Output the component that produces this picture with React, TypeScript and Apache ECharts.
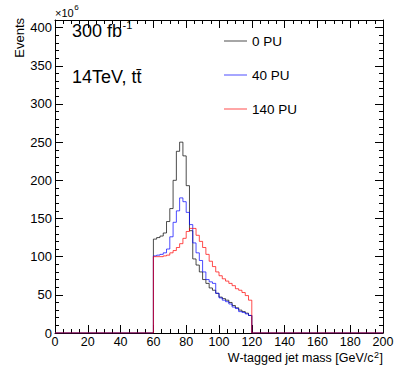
import React, { useEffect, useRef } from 'react';
import * as echarts from 'echarts';

// Lower edges of the 2 GeV mass bins (GeV/c^2)
const massEdges = [60, 62, 64, 66, 68, 70, 72, 74, 76, 78, 80, 82, 84, 86, 88, 90, 92, 94, 96, 98, 100, 102, 104, 106, 108, 110, 112, 114, 116, 118];
const upperEdge = 120;

// Events per bin (x10^6)
const pu0 = [123, 125, 127, 131, 146, 163, 200, 238, 250, 232, 193, 134, 97, 89, 80, 70, 65, 59, 56, 52, 47, 45, 43, 40, 36, 33, 30, 28, 26, 23];
const pu40 = [101, 102, 103, 105, 110, 126, 145, 160, 177, 172, 158, 142, 118, 105, 95, 80, 70, 67, 65, 52, 46, 43, 41, 38, 34, 32, 28, 27, 25, 23];
const pu140 = [100, 100, 100, 101, 102, 105, 108, 112, 117, 124, 133, 137, 137, 128, 120, 112, 103, 94, 87, 80, 75, 71, 68, 65, 62, 58, 56, 53, 49, 43];

const seriesNames = ['0 PU', '40 PU', '140 PU'];
const seriesValues = [pu0, pu40, pu140];
const seriesColors = ['#000000', '#0000ff', '#ff0000'];

const xRange = [0, 200];
const yFrameMax = 410;      // top of the frame
const yTickRange = [0, 400]; // labelled range

const FONT = "'Liberation Sans', Arial, Helvetica, sans-serif";

function histData(vals: number[]) {
  const d: number[][] = [[xRange[0], 0]];
  massEdges.forEach((e, i) => d.push([e, vals[i]]));
  d.push([upperEdge, 0]);
  d.push([xRange[1], 0]);
  return d;
}

export default function App() {
  const ref = useRef<HTMLDivElement>(null);
  useEffect(() => {
    const chart = echarts.init(ref.current!, null, { renderer: 'svg' });
    const ctx = document.createElement('canvas').getContext('2d')!;
    const tw = (t: string, size: number) => { ctx.font = `${size}px 'Liberation Sans'`; return ctx.measureText(t).width; };

    const W = 399, H = 383;
    const gLeft = 55, gRight = 16, gTop = 20, gBottom = 50;
    const plotH = H - gTop - gBottom;
    const tickTop = gTop + plotH * (yFrameMax - yTickRange[1]) / yFrameMax;

    const axisLine = { show: true, onZero: false, lineStyle: { color: '#000', width: 1 } };
    const tickStyle = { color: '#000', width: 1 };
    const xCommon = {
      type: 'value', min: xRange[0], max: xRange[1], interval: 20, gridIndex: 0,
      axisLine, splitLine: { show: false },
      axisTick: { show: true, inside: true, length: 8, lineStyle: tickStyle },
      minorTick: { show: true, splitNumber: 4, length: 4, lineStyle: tickStyle },
    };
    const yFrame = {
      type: 'value', min: 0, max: yFrameMax, gridIndex: 0,
      axisLine, splitLine: { show: false }, axisTick: { show: false }, axisLabel: { show: false },
    };
    const yTicks = {
      type: 'value', min: yTickRange[0], max: yTickRange[1], interval: 50, gridIndex: 1,
      axisLine: { show: false }, splitLine: { show: false },
      axisTick: { show: true, inside: true, length: 8, lineStyle: tickStyle },
      minorTick: { show: true, splitNumber: 5, length: 4, lineStyle: tickStyle },
    };

    // title pieces
    const tA = 'W-tagged jet mass [GeV/c', tB = '2', tC = ']';
    const fT = 12.5, fS = 9;
    const wC = tw(tC, fT), wB = tw(tB, fS), wA = tw(tA, fT);
    const titleRight = W - gRight;
    const fbMain = '300 fb', fbSize = 18;
    const xMain = '×10', xSize = 11;

    const txt = (x: number, y: number, text: string, size: number, extra: any = {}) => ({
      type: 'text', x, y,
      style: { text, fontSize: size, fontFamily: FONT, fill: '#000', align: 'left', verticalAlign: 'top', lineHeight: size, ...extra },
    });

    const option: any = {
      animation: false,
      backgroundColor: '#fff',
      grid: [
        { left: gLeft, right: gRight, top: gTop, bottom: gBottom, containLabel: false },
        { left: gLeft, right: gRight, top: tickTop, bottom: gBottom, containLabel: false },
      ],
      xAxis: [
        { ...xCommon, position: 'bottom', axisLabel: { show: true, fontSize: 12.5, lineHeight: 10, color: '#000', margin: 4, fontFamily: FONT } },
        { ...xCommon, position: 'top', axisLabel: { show: false } },
        { type: 'value', min: xRange[0], max: xRange[1], gridIndex: 1, show: false },
      ],
      yAxis: [
        { ...yFrame, position: 'left' },
        { ...yFrame, position: 'right' },
        { ...yTicks, position: 'left', axisLabel: { show: true, fontSize: 13, color: '#000', margin: 3, fontFamily: FONT } },
        { ...yTicks, position: 'right', axisLabel: { show: false } },
      ],
      legend: {
        data: seriesNames, orient: 'vertical', left: 224, top: 34, padding: 0,
        itemWidth: 23, itemHeight: 1, itemGap: 20, icon: 'rect', selectedMode: false,
        textStyle: { fontSize: 13.5, color: '#000', fontFamily: FONT, lineHeight: 14 },
      },
      series: seriesNames.map((name, i) => ({
        name, type: 'line', step: 'end', xAxisIndex: 0, yAxisIndex: 0,
        symbol: 'none', showSymbol: false,
        data: histData(seriesValues[i]),
        lineStyle: { color: seriesColors[i], width: 1, opacity: 0.7 },
        itemStyle: { color: seriesColors[i], opacity: 0.7 },
        z: 2 + i,
      })),
      graphic: [
        {
          type: 'text', x: 19, y: 18, rotation: Math.PI / 2,
          style: { text: 'Events', fontSize: 13, fontFamily: FONT, fill: '#000', align: 'right', verticalAlign: 'middle' },
        },
        txt(55, 7, xMain, xSize),
        txt(55 + tw(xMain, xSize) + 0.5, 3, '6', 8),
        txt(72, 22, fbMain, fbSize),
        txt(72 + tw(fbMain, fbSize) + 0.5, 19, '-1', 11),
        txt(72, 68, '14TeV, tt\u0304', 18),
        txt(titleRight - wC - wB - wA - 1, 352, tA, fT),
        txt(titleRight - wC - wB - 0.5, 350.5, tB, fS),
        txt(titleRight - wC, 352, tC, fT),
      ],
    };
    chart.setOption(option);
    return () => chart.dispose();
  }, []);
  return <div ref={ref} style={{ position: 'absolute', left: 0, top: 0, width: 399, height: 383, background: '#fff' }} />;
}
